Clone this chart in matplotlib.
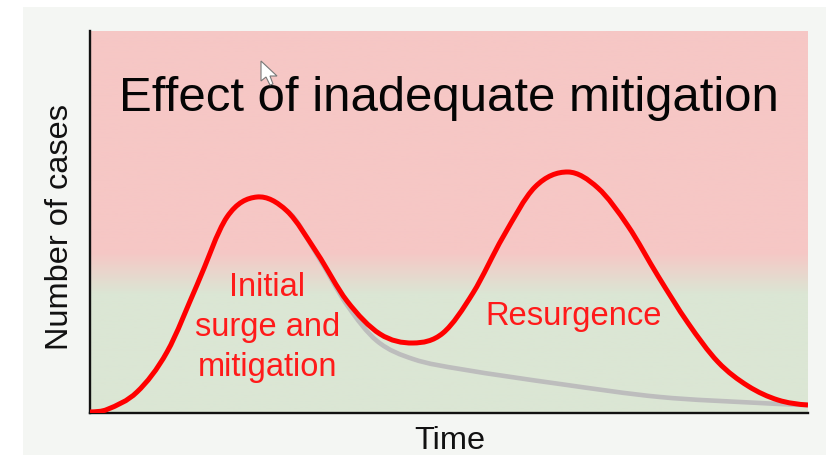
import numpy as np
import matplotlib
matplotlib.use("Agg")
import matplotlib.pyplot as plt
from matplotlib.colors import LinearSegmentedColormap
from matplotlib.patches import PathPatch, Polygon, Rectangle
from matplotlib.path import Path

plt.rcParams['font.family'] = ['Liberation Sans', 'DejaVu Sans']

# Values (arbitrary units: the chart has no ticks)
surge_x = [0, 17, 47, 77, 107, 137, 167, 197, 227, 257, 290, 323, 353, 383, 413, 445, 478,
           508, 538, 568, 598, 628, 658, 688, 718]
surge_y = [1, 3.5, 21, 61, 128, 196, 216, 202, 160, 112, 79, 70, 80, 120, 176, 226, 241,
           225, 187, 137, 90, 51, 27, 13, 8]
no_resurgence_x = [197, 227, 257, 287, 323, 370, 470, 570, 670, 718]
no_resurgence_y = [202, 158, 108, 72, 54, 44, 29, 16, 10, 8]
band_stops = [0.0, 0.31, 0.42, 1.0]
band_colors = ['#dbe6d4', '#dbe6d4', '#f6c7c5', '#f6c7c5']
title = 'Effect of inadequate mitigation'
surge_label = 'Initial\nsurge and\nmitigation'
resurgence_label = 'Resurgence'
x_label = 'Time'
y_label = 'Number of cases'


def smooth_path(xs, ys):
    """Bezier path through the given points, with slopes taken from neighbouring points."""
    x = np.asarray(xs, float)
    y = np.asarray(ys, float)
    m = np.zeros_like(y)
    m[1:-1] = (y[2:] - y[:-2]) / (x[2:] - x[:-2])
    m[0] = (y[1] - y[0]) / (x[1] - x[0]) * 0.4
    m[-1] = (y[-1] - y[-2]) / (x[-1] - x[-2]) * 0.4
    verts = [(x[0], y[0])]
    codes = [Path.MOVETO]
    for i in range(len(x) - 1):
        d = (x[i + 1] - x[i]) / 3
        verts += [(x[i] + d, y[i] + m[i] * d), (x[i + 1] - d, y[i + 1] - m[i + 1] * d), (x[i + 1], y[i + 1])]
        codes += [Path.CURVE4] * 3
    return Path(verts, codes)


W, H = 826, 456
fig = plt.figure(figsize=(W / 100, H / 100), dpi=100, facecolor='white')
fig.add_artist(Rectangle((23 / W, 0), (W - 23) / W, 1 - 8 / H, transform=fig.transFigure,
                         facecolor='#f4f6f3', edgecolor='none', zorder=-5))
ax = fig.add_axes([90 / W, 1 - 414 / H, 718 / W, 382 / H])
ax.patch.set_alpha(0)
cmap = LinearSegmentedColormap.from_list('band', list(zip(band_stops, band_colors)))
grad = np.linspace(0, 1, 400).reshape(-1, 1)
ax.imshow(grad, extent=(0, 718, 0, 382), origin='lower', aspect='auto', cmap=cmap, zorder=0)
ax.add_patch(PathPatch(smooth_path(no_resurgence_x, no_resurgence_y), facecolor='none',
                       edgecolor='#bdbdbd', lw=3.3, capstyle='butt', joinstyle='round', zorder=2))
ax.add_patch(PathPatch(smooth_path(surge_x, surge_y), facecolor='none', edgecolor='#ff0000',
                       lw=3.6, capstyle='butt', joinstyle='round', zorder=3))
ax.set_xlim(0, 718)
ax.set_ylim(0, 382)
ax.set_xticks([])
ax.set_yticks([])
for s in ('top', 'right'):
    ax.spines[s].set_visible(False)
for s in ('left', 'bottom'):
    ax.spines[s].set_linewidth(1.7)
    ax.spines[s].set_color('#111111')

tr = ax.transAxes
ax.text(0.50, 0.825, title, transform=tr, ha='center', va='center', fontsize=35.4, color='#050505')
ax.text(0.247, 0.226, surge_label, transform=tr, ha='center', va='center', fontsize=23.5,
        color='#ff1a1a', linespacing=1.37)
ax.text(0.673, 0.256, resurgence_label, transform=tr, ha='center', va='center', fontsize=23.6, color='#ff1a1a')
fig.text(450 / W, 1 - 441 / H, x_label, ha='center', va='center', fontsize=23.4, color='#111111')
fig.text(60 / W, 1 - 227 / H, y_label, ha='center', va='center', rotation=90, fontsize=23.4, color='#111111')

# Mouse pointer captured in the screenshot
cursor = np.array([[261, 62], [261, 82], [266, 78], [270, 86], [273, 85], [270, 77], [277, 77]], float)
cursor[:, 0] /= W
cursor[:, 1] = 1 - cursor[:, 1] / H
fig.add_artist(Polygon(cursor, closed=True, transform=fig.transFigure, facecolor='white',
                       edgecolor='#777777', lw=0.8, zorder=10))

fig.savefig('out.png', dpi=100)
